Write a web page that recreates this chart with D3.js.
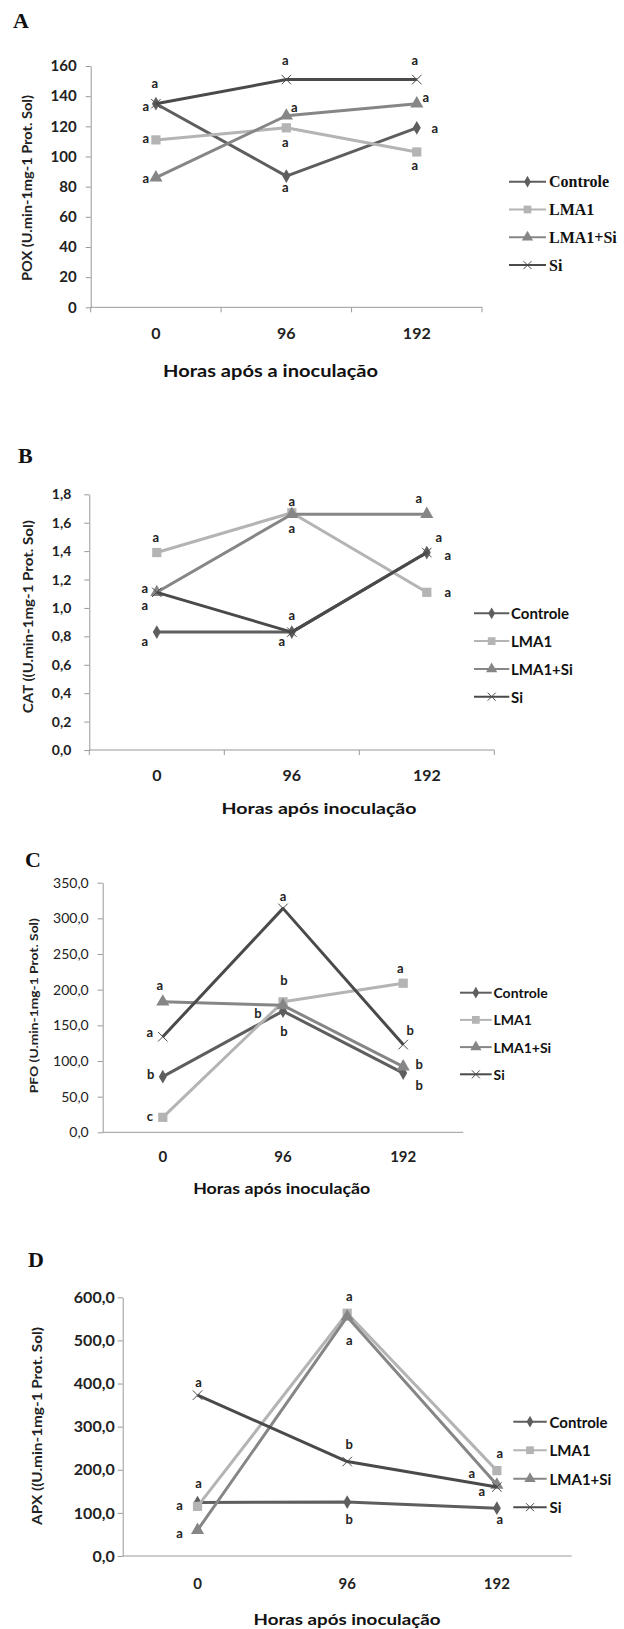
<!DOCTYPE html>
<html>
<head>
<meta charset="utf-8">
<script src="https://cdn.jsdelivr.net/npm/d3@7"></script>
<style>
body { margin: 0; background: #fff; }
svg { display: block; }
</style>
</head>
<body>
<svg id="chart" width="624" height="1629"></svg>
<script>
//categories and series
const hours = ['0', '96', '192'];
const seriesNames = ['Controle', 'LMA1', 'LMA1+Si', 'Si'];

//A - POX
const poxControle = [135, 87, 119];
const poxLMA1 = [111, 119, 103];
const poxLMA1Si = [86, 127, 135];
const poxSi = [135, 151, 151];
const poxTicks = [0, 20, 40, 60, 80, 100, 120, 140, 160];
const poxLetters = [['a', 'a', 'a'], ['a', 'a', 'a'], ['a', 'a', 'a'], ['a', 'a', 'a']];

//B - CAT
const catControle = [0.83, 0.83, 1.39];
const catLMA1 = [1.39, 1.67, 1.11];
const catLMA1Si = [1.11, 1.66, 1.66];
const catSi = [1.11, 0.83, 1.39];
const catTicks = [0, 0.2, 0.4, 0.6, 0.8, 1.0, 1.2, 1.4, 1.6, 1.8];
const catLetters = [['a', 'a', 'a'], ['a', 'a', 'a'], ['a', 'a', 'a'], ['a', 'a', 'a']];

//C - PFO
const pfoControle = [78, 170, 83];
const pfoLMA1 = [21, 183, 209];
const pfoLMA1Si = [183, 178, 92];
const pfoSi = [134, 314, 123];
const pfoTicks = [0, 50, 100, 150, 200, 250, 300, 350];
const pfoLetters = [['b', 'b', 'b'], ['c', 'b', 'a'], ['a', 'b', 'b'], ['a', 'a', 'b']];

//D - APX
const apxControle = [124, 125, 111];
const apxLMA1 = [115, 563, 198];
const apxLMA1Si = [60, 555, 165];
const apxSi = [373, 219, 160];
const apxTicks = [0, 100, 200, 300, 400, 500, 600];
const apxLetters = [['a', 'b', 'a'], ['a', 'a', 'a'], ['a', 'a', 'a'], ['a', 'b', 'a']];

//styles
const seriesColors = ['#5e5e5e', '#b4b4b4', '#868686', '#4a4a4a'];
const sansFont = 'Lato, "Open Sans", sans-serif';
const serifFont = '"Liberation Serif", "DejaVu Serif", serif';
const commaFormat = d => d.toFixed(1).replace('.', ',');

//x marker drawn with strokes
const symbolCross = {
	draw(ctx, size) {
		const r = Math.sqrt(size) / 2;
		ctx.moveTo(-r, -r); ctx.lineTo(r, r);
		ctx.moveTo(r, -r); ctx.lineTo(-r, r);
	}
};
const markerTypes = [d3.symbolDiamond, d3.symbolSquare, d3.symbolTriangle, symbolCross];
const markerSizes = [55, 85, 75, 90];
const legendSizes = [40, 60, 55, 64];

//panel layout
const panels = [
	{
		tag: 'A', tagX: 13, tagY: 28,
		series: [poxControle, poxLMA1, poxLMA1Si, poxSi], letters: poxLetters,
		ticks: poxTicks, yMax: 160, fmt: d3.format('d'),
		x0: 90.7, x1: 482, yTop: 66, yBottom: 307.3,
		yTickPad: 9, yTickFont: 15, yTickWeight: 'bold',
		xTickOffset: 26, xTickFont: 16, xTicks: true,
		yTitle: 'POX (U.min-1mg-1 Prot. Sol)', yTitleX: 27, yTitleY: 188, yTitleLen: 186, yTitleFont: 13,
		xTitle: 'Horas após a inoculação', xTitleX: 270.5, xTitleY: 370, xTitleLen: 215, xTitleFont: 17,
		legendX0: 509, legendX1: 546, legendTextX: 549, legendY: 181.7, legendStep: 27.8,
		legendFont: serifFont, legendSize: 16,
		offsets: [
			[[-10, 2], [-1, 11], [18, 0]],
			[[-10, -2], [-1, 14], [-2, 13]],
			[[-10, 0], [8, -9], [9, -7]],
			[[-1, -21], [-1, -20], [-2, -20]]
		]
	},
	{
		tag: 'B', tagX: 18, tagY: 463,
		series: [catControle, catLMA1, catLMA1Si, catSi], letters: catLetters,
		ticks: catTicks, yMax: 1.8, fmt: commaFormat,
		x0: 89.3, x1: 494.3, yTop: 494.3, yBottom: 750,
		yTickPad: 13, yTickFont: 14, yTickWeight: 'bold',
		xTickOffset: 25, xTickFont: 16, xTicks: true,
		yTitle: 'CAT ((U.min-1mg-1 Prot. Sol)', yTitleX: 28.3, yTitleY: 616.7, yTitleLen: 193, yTitleFont: 13,
		xTitle: 'Horas após inoculação', xTitleX: 319, xTitleY: 807, xTitleLen: 195, xTitleFont: 16,
		legendX0: 474, legendX1: 509.3, legendTextX: 511, legendY: 613.3, legendStep: 27.8,
		legendFont: sansFont, legendSize: 15,
		offsets: [
			[[-12, 9], [-10, 9], [21, 2]],
			[[-1, -16], [0, -12], [21, 0]],
			[[-12, -4], [0, 14], [-8, -16]],
			[[-12, 13], [0, -17], [12, -16]]
		]
	},
	{
		tag: 'C', tagX: 25, tagY: 867,
		series: [pfoControle, pfoLMA1, pfoLMA1Si, pfoSi], letters: pfoLetters,
		ticks: pfoTicks, yMax: 350, fmt: commaFormat,
		x0: 102.7, x1: 463.3, yTop: 882.7, yBottom: 1132.3,
		yTickPad: 9, yTickFont: 14, yTickWeight: 'normal',
		xTickOffset: 24.4, xTickFont: 15, xTicks: false,
		yTitle: 'PFO (U.min-1mg-1 Prot. Sol)', yTitleX: 33.3, yTitleY: 1005.7, yTitleLen: 175, yTitleFont: 12,
		xTitle: 'Horas após inoculação', xTitleX: 281.7, xTitleY: 1188, xTitleLen: 177, xTitleFont: 15,
		legendX0: 460, legendX1: 491.7, legendTextX: 493.5, legendY: 992.7, legendStep: 27.2,
		legendFont: sansFont, legendSize: 14,
		offsets: [
			[[-12, -3], [1, 20], [16, 12]],
			[[-13, -1], [1, -22], [-3, -15]],
			[[-3, -17], [-25, 8], [16, -3]],
			[[-13, -5], [0, -12], [7, -15]]
		]
	},
	{
		tag: 'D', tagX: 28, tagY: 1267,
		series: [apxControle, apxLMA1, apxLMA1Si, apxSi], letters: apxLetters,
		ticks: apxTicks, yMax: 600, fmt: commaFormat,
		x0: 122.7, x1: 571.7, yTop: 1297.3, yBottom: 1556,
		yTickPad: 3, yTickFont: 16, yTickWeight: 'bold',
		xTickOffset: 28, xTickFont: 15, xTicks: false,
		yTitle: 'APX ((U.min-1mg-1 Prot. Sol)', yTitleX: 37.3, yTitleY: 1426, yTitleLen: 198, yTitleFont: 13,
		xTitle: 'Horas após inoculação', xTitleX: 347, xTitleY: 1618, xTitleLen: 187, xTitleFont: 16,
		legendX0: 513.3, legendX1: 546.7, legendTextX: 549.5, legendY: 1421.7, legendStep: 28.5,
		legendFont: sansFont, legendSize: 15,
		offsets: [
			[[1, -20], [2, 17], [3, 11]],
			[[-18, -1], [2, -17], [3, -18]],
			[[-18, 3], [2, 23], [-25, -12]],
			[[1, -13], [2, -18], [-15, 4]]
		]
	}
];

const svg = d3.select('#chart');
svg.append('rect').attr('width', 624).attr('height', 1629).attr('fill', '#fff');

panels.forEach(p => drawPanel(p));

function drawPanel(p) {
	const g = svg.append('g').classed('panel', true);

	//scales
	const x = d3.scaleBand().domain(hours).range([p.x0, p.x1]);
	const y = d3.scaleLinear().domain([0, p.yMax]).range([p.yBottom, p.yTop]);
	const cx = h => x(h) + x.bandwidth() / 2;

	//panel letter
	g.append('text')
		.attr('x', p.tagX).attr('y', p.tagY)
		.attr('font-family', serifFont).attr('font-weight', 'bold').attr('font-size', 22)
		.attr('fill', '#111')
		.text(p.tag);

	//y axis
	const yAxis = g.append('g')
		.attr('transform', `translate(${p.x0},0)`)
		.call(d3.axisLeft(y).tickValues(p.ticks).tickFormat(p.fmt).tickSize(5).tickSizeOuter(0).tickPadding(p.yTickPad));
	yAxis.select('.domain').attr('stroke', '#999');
	yAxis.selectAll('.tick line').attr('stroke', '#999');
	yAxis.selectAll('.tick text')
		.attr('font-family', sansFont).attr('font-size', p.yTickFont).attr('font-weight', p.yTickWeight)
		.attr('fill', '#222');

	//x axis labels at category centres
	const xAxis = g.append('g')
		.attr('transform', `translate(0,${p.yBottom})`)
		.call(d3.axisBottom(x).tickSize(0).tickPadding(p.xTickOffset - p.xTickFont * 0.36));
	xAxis.select('.domain').remove();
	xAxis.selectAll('.tick text')
		.attr('font-family', sansFont).attr('font-size', p.xTickFont).attr('font-weight', 'bold')
		.attr('fill', '#222');

	//x axis line and ticks between categories
	g.append('line')
		.attr('x1', p.x0).attr('x2', p.x1)
		.attr('y1', p.yBottom).attr('y2', p.yBottom)
		.attr('stroke', '#999');
	if (p.xTicks) {
		const bounds = hours.map(h => x(h)).concat([p.x1]);
		g.selectAll('.xbound')
			.data(bounds)
			.enter()
			.append('line')
				.attr('x1', d => d).attr('x2', d => d)
				.attr('y1', p.yBottom).attr('y2', p.yBottom + 5)
				.attr('stroke', '#999');
	}

	//axis titles
	g.append('text')
		.attr('transform', `translate(${p.yTitleX},${p.yTitleY}) rotate(-90)`)
		.attr('text-anchor', 'middle').attr('dominant-baseline', 'central')
		.attr('font-family', sansFont).attr('font-weight', 'bold').attr('font-size', p.yTitleFont)
		.attr('textLength', p.yTitleLen).attr('lengthAdjust', 'spacingAndGlyphs')
		.attr('fill', '#222')
		.text(p.yTitle);
	g.append('text')
		.attr('x', p.xTitleX).attr('y', p.xTitleY)
		.attr('text-anchor', 'middle').attr('dominant-baseline', 'central')
		.attr('font-family', sansFont).attr('font-weight', 'bold').attr('font-size', p.xTitleFont)
		.attr('textLength', p.xTitleLen).attr('lengthAdjust', 'spacingAndGlyphs')
		.attr('fill', '#111')
		.text(p.xTitle);

	//lines and markers
	const line = d3.line().x((d, i) => cx(hours[i])).y(d => y(d));
	p.series.forEach((vals, s) => {
		g.append('path')
			.attr('d', line(vals))
			.attr('fill', 'none')
			.attr('stroke', seriesColors[s])
			.attr('stroke-width', 3)
			.attr('stroke-linejoin', 'round');
		const sym = d3.symbol().type(markerTypes[s]).size(markerSizes[s]);
		g.selectAll(`.m${s}`)
			.data(vals)
			.enter()
			.append('path')
				.classed(`m${s}`, true)
				.attr('d', sym)
				.attr('transform', (d, i) => `translate(${cx(hours[i])},${y(d)})`)
				.attr('fill', s === 3 ? 'none' : seriesColors[s])
				.attr('stroke', s === 3 ? seriesColors[s] : 'none')
				.attr('stroke-width', 1);
	});

	//significance letters
	p.series.forEach((vals, s) => {
		g.selectAll(`.l${s}`)
			.data(vals)
			.enter()
			.append('text')
				.classed(`l${s}`, true)
				.attr('x', (d, i) => cx(hours[i]) + p.offsets[s][i][0])
				.attr('y', (d, i) => y(d) + p.offsets[s][i][1])
				.attr('text-anchor', 'middle').attr('dominant-baseline', 'central')
				.attr('font-family', sansFont).attr('font-weight', 'bold').attr('font-size', 13)
				.attr('fill', '#222')
				.text((d, i) => p.letters[s][i]);
	});

	//legend
	const legend = g.selectAll('.legend')
		.data(seriesNames)
		.enter()
		.append('g')
			.attr('transform', (d, i) => `translate(0,${p.legendY + i * p.legendStep})`);
	legend.append('line')
		.attr('x1', p.legendX0).attr('x2', p.legendX1)
		.attr('stroke', (d, i) => seriesColors[i])
		.attr('stroke-width', 2);
	legend.append('path')
		.attr('d', (d, i) => d3.symbol().type(markerTypes[i]).size(legendSizes[i])())
		.attr('transform', `translate(${(p.legendX0 + p.legendX1) / 2},0)`)
		.attr('fill', (d, i) => i === 3 ? 'none' : seriesColors[i])
		.attr('stroke', (d, i) => i === 3 ? seriesColors[i] : 'none');
	legend.append('text')
		.attr('x', p.legendTextX)
		.attr('dominant-baseline', 'central')
		.attr('font-family', p.legendFont).attr('font-weight', 'bold').attr('font-size', p.legendSize)
		.attr('fill', '#111')
		.text(d => d);
}
</script>
</body>
</html>
